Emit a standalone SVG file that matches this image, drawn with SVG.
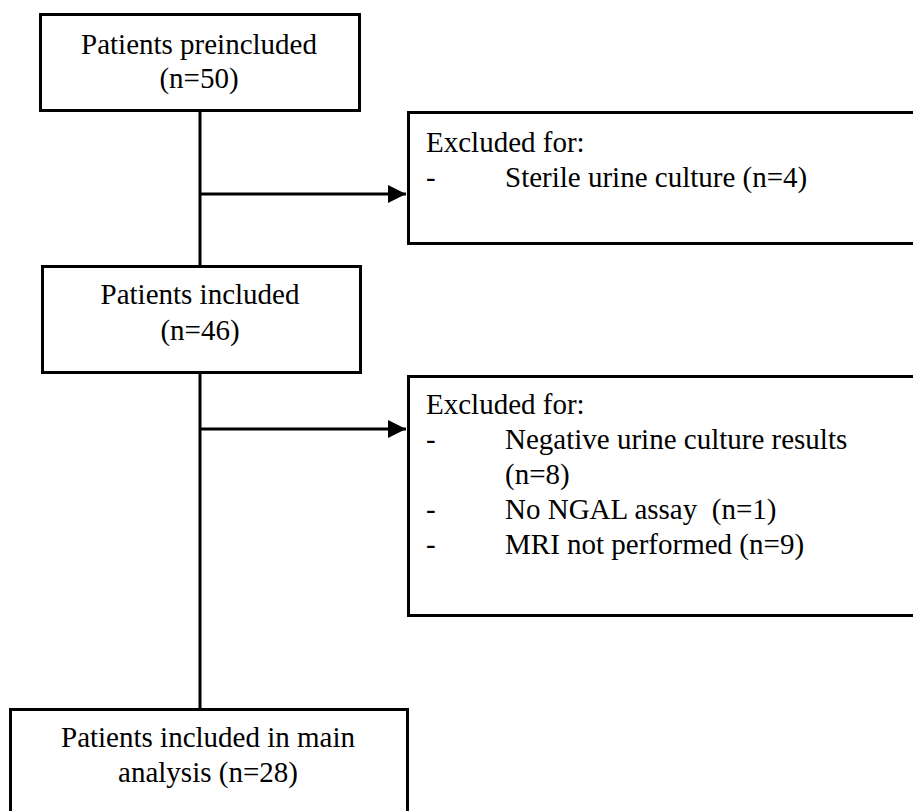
<svg xmlns="http://www.w3.org/2000/svg" width="913" height="811" viewBox="0 0 913 811">
<style>
.box{fill:#fff;stroke:#000;stroke-width:3}
.t{font-family:'Liberation Serif','Times New Roman','DejaVu Serif',serif;font-size:29px;fill:#000}
.c{text-anchor:middle}
.ln{stroke:#000;stroke-width:3;fill:none}
</style>
<defs>
<marker id="ah" markerWidth="6" markerHeight="6" refX="6" refY="3" orient="auto" markerUnits="strokeWidth">
<path d="M0,0 L6,3 L0,6 Z" fill="#000"/>
</marker>
</defs>
<rect width="913" height="811" fill="#fff"/>
<g id="connectors">
<line class="ln" x1="200" y1="111" x2="200" y2="267"/>
<line class="ln" x1="200" y1="194" x2="406" y2="194" marker-end="url(#ah)"/>
<line class="ln" x1="200" y1="373" x2="200" y2="710"/>
<line class="ln" x1="200" y1="429" x2="406" y2="429" marker-end="url(#ah)"/>
</g>
<g id="n1">
<rect class="box" x="40.5" y="14.5" width="319" height="96"/>
<text class="t c" font-family="Liberation Serif, serif" x="199" y="54">Patients preincluded</text>
<text class="t c" font-family="Liberation Serif, serif" x="199" y="88">(n=50)</text>
</g>
<g id="n2">
<rect class="box" x="408.5" y="112.5" width="520" height="131"/>
<text class="t" x="426" y="152">Excluded for:</text>
<text class="t" x="426" y="187">-</text>
<text class="t" x="505" y="187">Sterile urine culture (n=4)</text>
</g>
<g id="n3">
<rect class="box" x="42.5" y="266.5" width="318" height="106"/>
<text class="t c" x="200" y="304">Patients included</text>
<text class="t c" x="200" y="340">(n=46)</text>
</g>
<g id="n4">
<rect class="box" x="408.5" y="376.5" width="520" height="239"/>
<text class="t" x="426" y="414">Excluded for:</text>
<text class="t" x="426" y="449">-</text>
<text class="t" x="505" y="449">Negative urine culture results</text>
<text class="t" x="505" y="484">(n=8)</text>
<text class="t" x="426" y="519">-</text>
<text class="t" x="505" y="519" xml:space="preserve">No NGAL assay  (n=1)</text>
<text class="t" x="426" y="554">-</text>
<text class="t" x="505" y="554">MRI not performed (n=9)</text>
</g>
<g id="n5">
<rect class="box" x="10.5" y="709.5" width="397" height="130"/>
<text class="t c" x="208" y="747">Patients included in main</text>
<text class="t c" x="208" y="782">analysis (n=28)</text>
</g>
</svg>
